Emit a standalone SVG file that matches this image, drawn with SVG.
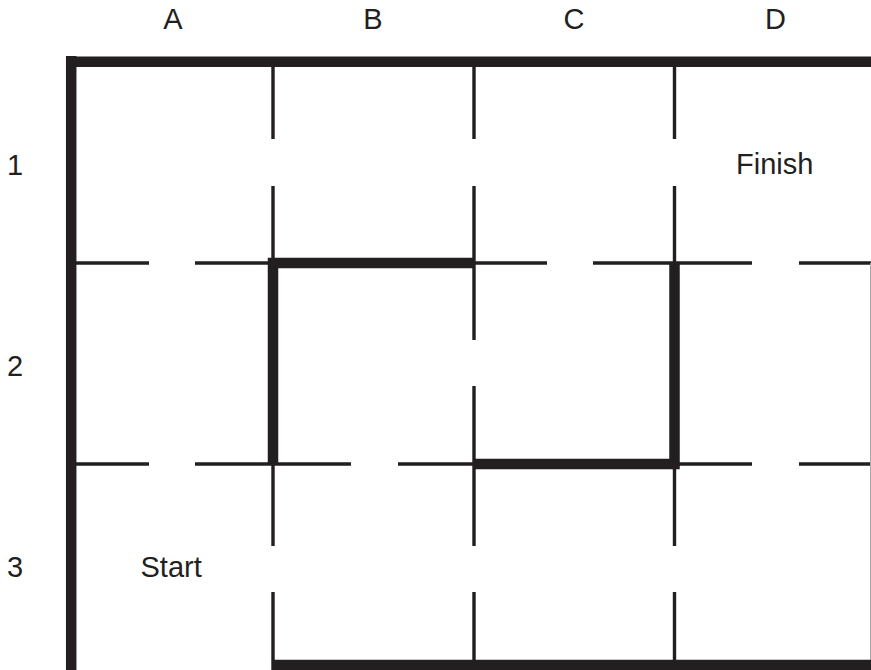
<svg xmlns="http://www.w3.org/2000/svg" width="871" height="670" viewBox="0 0 871 670">
<style>
.thin{stroke:#231f20;stroke-width:3.4;fill:none;stroke-linecap:butt}
.thick{stroke:#231f20;stroke-width:10.5;fill:none;stroke-linecap:butt;stroke-linejoin:miter}
.lbl{font-family:"Liberation Sans",Arial,sans-serif;font-size:29px;fill:#231f20}
</style>
<rect width="871" height="670" fill="#ffffff"/>
<g id="labels" class="lbl">
<text x="173" y="29" text-anchor="middle">A</text>
<text x="373" y="29" text-anchor="middle">B</text>
<text x="574" y="29" text-anchor="middle">C</text>
<text x="775.5" y="29" text-anchor="middle">D</text>
<text x="15" y="175" text-anchor="middle">1</text>
<text x="15" y="376" text-anchor="middle">2</text>
<text x="15" y="577" text-anchor="middle">3</text>
<text x="736" y="174">Finish</text>
<text x="140.5" y="577">Start</text>
</g>
<g id="thin-walls" class="thin">
<path d="M273,62V139M273,186V263M273,463V546M273,592V660"/>
<path d="M474,62V139M474,186V340M474,386V546M474,592V660"/>
<path d="M674.5,62V139M674.5,186V263M674.5,463V546M674.5,592V660"/>
<path d="M76,263H149M195,263H273M474,263H547M593,263H752M799,263H871"/>
<path d="M76,464H149M195,464H351M398,464H474M674.5,464H752M799,464H871"/>
</g>
<line id="right-edge" x1="870.5" y1="263" x2="870.5" y2="662" stroke="#a6a6a6" stroke-width="1"/>
<g id="thick-walls" class="thick">
<path d="M66,61.7H871"/>
<path d="M71.2,56V670"/>
<path d="M271.3,665H871"/>
<path d="M474,263H273V463.5"/>
<path d="M473,464H674.5V262"/>
</g>
</svg>
